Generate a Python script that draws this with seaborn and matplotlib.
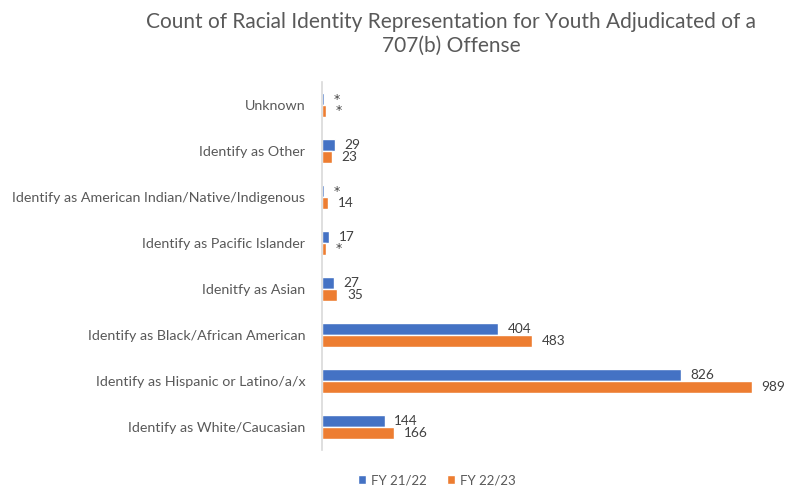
import matplotlib
matplotlib.use("Agg")
import matplotlib.pyplot as plt
import seaborn as sns
import pandas as pd
from matplotlib.patches import Patch

categories = [
    "Unknown",
    "Identify as Other",
    "Identify as American Indian/Native/Indigenous",
    "Identify as Pacific Islander",
    "Idenitfy as Asian",
    "Identify as Black/African American",
    "Identify as Hispanic or Latino/a/x",
    "Identify as White/Caucasian",
]
series_names = ["FY 21/22", "FY 22/23"]
fy2122 = [4, 29, 5, 17, 27, 404, 826, 144]
fy2223 = [9, 23, 14, 8, 35, 483, 989, 166]
labels2122 = ["*", "29", "*", "17", "27", "404", "826", "144"]
labels2223 = ["*", "23", "14", "*", "35", "483", "989", "166"]
colors = ["#4472C4", "#ED7D31"]

df = pd.DataFrame({
    "category": categories * 2,
    "count": fy2122 + fy2223,
    "year": [series_names[0]] * len(categories) + [series_names[1]] * len(categories),
})

sns.set_style("white")
plt.rcParams["font.family"] = ["Lato", "DejaVu Sans"]
text_color = "#595959"

fig = plt.figure(figsize=(7.86, 4.91), dpi=100)
ax = fig.add_axes([0.4097, 0.0835, 0.553, 0.7495])
sns.barplot(data=df, y="category", x="count", hue="year", order=categories,
            hue_order=series_names, palette=colors, orient="h", width=0.52,
            saturation=1, ax=ax, legend=False)

for cont, labs in zip(ax.containers, [labels2122, labels2223]):
    texts = ax.bar_label(cont, labels=labs, padding=7, fontsize=9.8, color="#404040")
    for t in texts:
        if t.get_text() == "*":
            t.set_fontsize(9)
            t.set_family(["DejaVu Sans"])

ax.set_xlim(0, 1000)
ax.set_xlabel("")
ax.set_ylabel("")
ax.set_xticks([])
ax.tick_params(axis="y", length=0, pad=12, labelsize=10.3, labelcolor=text_color)
for s in ["top", "right", "bottom"]:
    ax.spines[s].set_visible(False)
ax.spines["left"].set_color("#D9D9D9")
ax.spines["left"].set_linewidth(1.2)

fig.text(0.574, 0.975, "Count of Racial Identity Representation for Youth Adjudicated of a\n707(b) Offense",
         ha="center", va="top", fontsize=15, color=text_color, linespacing=1.2)

handles = [Patch(facecolor=c, label=n) for c, n in zip(colors, series_names)]
fig.legend(handles=handles, loc="center", bbox_to_anchor=(0.556, 0.022), ncol=2,
           frameon=False, fontsize=9.5, handlelength=0.6, handleheight=0.6,
           columnspacing=1.5, handletextpad=0.4, labelcolor=text_color)

fig.savefig("out.png", dpi=100)
